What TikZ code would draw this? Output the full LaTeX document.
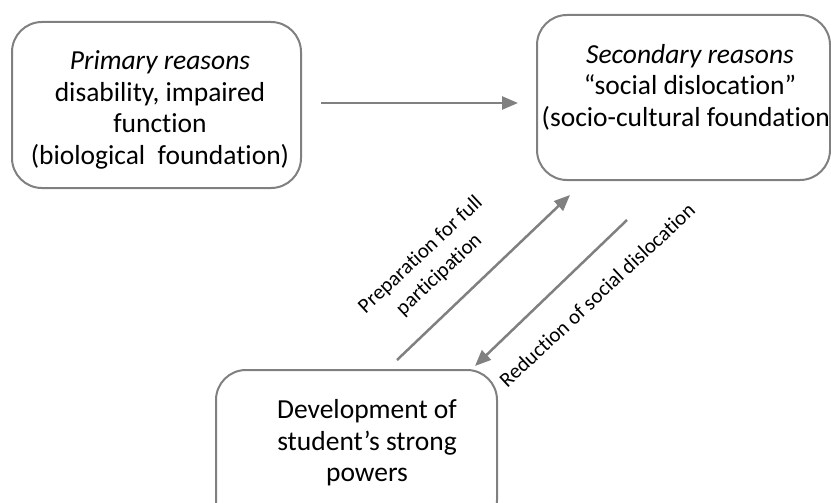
\documentclass[tikz,border=0pt]{standalone}
\usepackage{fontspec}
\setmainfont{Carlito}[Ligatures={NoCommon,NoContextual}]
\usetikzlibrary{arrows.meta}
\definecolor{edgegray}{HTML}{808080}
\begin{document}
\begin{tikzpicture}[x=1pt,y=-1pt,
  box/.style={draw=edgegray,line width=2pt,rounded corners=30pt,inner sep=0pt},
  boxtext/.style={align=center,font=\fontsize{27.5}{31.5}\selectfont,inner sep=0pt},
  flow/.style={draw=edgegray,line width=2.5pt,-{Triangle[length=16pt,width=13pt]}},
  edgelabel/.style={align=center,font=\fontsize{21}{27}\selectfont,rotate=43,inner sep=0pt}]
  \useasboundingbox (0,0) rectangle (831,503);
  \clip (0,0) rectangle (831,503);
  % rounded boxes
  \draw[box] (12,22) rectangle (301,188);
  \node[minimum size=0pt,inner sep=0pt] (b1) at (156.5,105) {};
  \draw[box] (537,15) rectangle (830,180);
  \node[minimum size=0pt,inner sep=0pt] (b2) at (683.5,97.5) {};
  \draw[box] (216,370) rectangle (497,530);
  \node[minimum size=0pt,inner sep=0pt] (b3) at (356.5,450) {};
  % box texts
  \node[boxtext] (t1) at (160,110) {\textit{Primary reasons}\\disability, impaired\\function\\(biological\ \ foundation)};
  \node[boxtext] (t2) at (690,87) {\textit{Secondary reasons}\\“social dislocation”\\(socio-cultural foundation)};
  \node[boxtext] (t3) at (367,443) {Development of\\student’s strong\\powers};
  % connector end points
  \coordinate (h1) at (321,103);
  \coordinate (h2) at (518,103);
  \coordinate (u1) at (397,360);
  \coordinate (u2) at (570,195);
  \coordinate (d1) at (627,220);
  \coordinate (d2) at (475,366);
  \draw[flow] (h1) -- (h2);
  \draw[flow] (u1) -- (u2);
  \draw[flow] (d1) -- (d2);
  % connector labels
  \node[edgelabel] (l1) at (430,265) {Preparation for full\\participation};
  \node[edgelabel] (l2) at (597,295) {Reduction of social dislocation};
\end{tikzpicture}
\end{document}
